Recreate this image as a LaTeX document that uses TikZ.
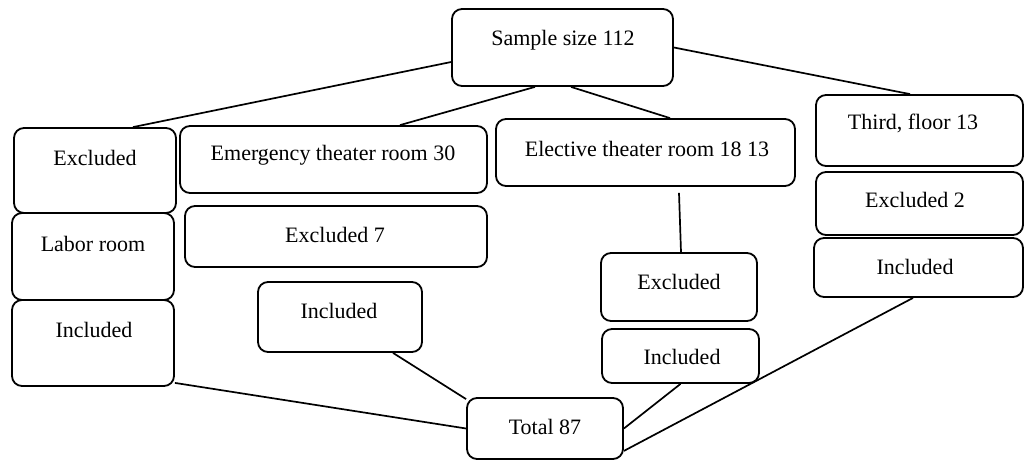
\documentclass[tikz,border=0pt]{standalone}
\usepackage{fontspec}
\setmainfont{Liberation Serif}
\usetikzlibrary{calc}
\tikzset{
  box/.style={draw=black, line width=1.8pt, rounded corners=10pt, inner sep=0pt},
  txt/.style={font=\fontsize{22}{26}\selectfont, inner sep=0pt},
  conn/.style={draw=black, line width=1.7pt}
}
\begin{document}
\begin{tikzpicture}[x=1pt,y=-1pt]
\useasboundingbox (0,0) rectangle (1024,461);
% boxes
\node[box, minimum width=221pt, minimum height=77pt] (samp) at (562.5,47.5) {};
\node[txt] (tsamp) at (563,40) {Sample size 112};
\node[box, minimum width=162pt, minimum height=85pt] (exc1) at (95,170.5) {};
\node[txt] (texc1) at (95,158) {Excluded};
\node[box, minimum width=307pt, minimum height=67pt] (emerg) at (333.5,159.5) {};
\node[txt] (temerg) at (333,155) {Emergency theater room 30};
\node[box, minimum width=302pt, minimum height=61pt] (exc7) at (336,236.5) {};
\node[txt] (texc7) at (335,235) {Excluded 7};
\node[box, minimum width=162pt, minimum height=87pt] (labor) at (93,256.5) {};
\node[txt] (tlabor) at (93,244) {Labor room};
\node[box, minimum width=162pt, minimum height=86pt] (inc1) at (93,343) {};
\node[txt] (tinc1) at (94,330) {Included};
\node[box, minimum width=164pt, minimum height=70pt] (inc2) at (340,317) {};
\node[txt] (tinc2) at (339,311) {Included};
\node[box, minimum width=156pt, minimum height=61pt] (total) at (545,428.5) {};
\node[txt] (ttotal) at (545,427) {Total 87};
\node[box, minimum width=299pt, minimum height=67pt] (elect) at (645.5,152.5) {};
\node[txt] (telect) at (647,149) {Elective theater room 18 13};
\node[box, minimum width=156pt, minimum height=68pt] (exc3) at (679,287) {};
\node[txt] (texc3) at (679,282) {Excluded};
\node[box, minimum width=157pt, minimum height=54pt] (inc3) at (680.5,356) {};
\node[txt] (tinc3) at (682,357) {Included};
\node[box, minimum width=207pt, minimum height=71pt] (third) at (919.5,130.5) {};
\node[txt] (tthird) at (913,123) {Third, floor 13};
\node[box, minimum width=207pt, minimum height=63pt] (exc2) at (919.5,203.5) {};
\node[txt] (texc2) at (915,200) {Excluded 2};
\node[box, minimum width=209pt, minimum height=59pt] (inc4) at (918.5,267.5) {};
\node[txt] (tinc4) at (915,267) {Included};
% connectors
\draw[conn] ([yshift=-14.5pt]samp.west) -- ([xshift=38pt]exc1.north);
\draw[conn] ([xshift=-27.5pt]samp.south) -- ([xshift=66.5pt]emerg.north);
\draw[conn] ([xshift=8.5pt]samp.south) -- ([xshift=24.5pt]elect.north);
\draw[conn] (samp.east) -- ([xshift=-9.5pt]third.north);
\draw[conn] ([xshift=33.5pt,yshift=-6pt]elect.south) -- ([xshift=2pt]exc3.north);
\draw[conn] ([yshift=4pt]inc1.south east) -- (total.west);
\draw[conn] ([xshift=53pt]inc2.south) -- ([yshift=-2pt]total.north west);
\draw[conn] (inc3.south) -- (total.east);
\draw[conn] ([xshift=-5.5pt]inc4.south) -- ([yshift=9pt]total.south east);
\end{tikzpicture}
\end{document}
